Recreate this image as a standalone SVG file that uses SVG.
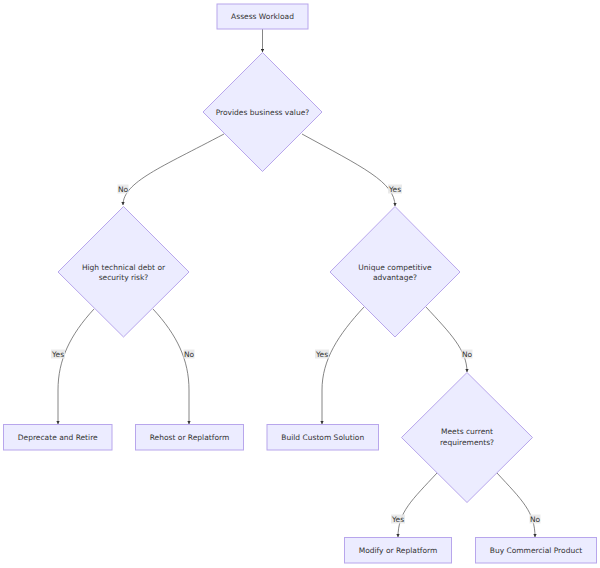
<svg xmlns="http://www.w3.org/2000/svg" width="600" height="568" viewBox="0 0 600 568">
<style>
.node rect,.node polygon{fill:#ECECFF;stroke:#b8a6ec;stroke-width:1}
text{font-family:"DejaVu Sans",sans-serif;font-size:7.5px;fill:#333;text-anchor:middle;dominant-baseline:central}
.edge{fill:none;stroke:#666;stroke-width:0.8}
.lbl rect{fill:#e8e8e8;opacity:0.9}
</style>
<defs>
<marker id="arr" viewBox="0 0 10 10" refX="9" refY="5" markerWidth="4" markerHeight="4" orient="auto">
<path d="M0,0 L10,5 L0,10 z" fill="#333"/>
</marker>
</defs>
<rect width="600" height="568" fill="#fff"/>
<g id="edges">
<path class="edge" d="M262.5,29 L262.5,52" marker-end="url(#arr)"/>
<path class="edge" d="M224,134 C162,167 123,182 123,205" marker-end="url(#arr)"/>
<path class="edge" d="M302,134 C362,167 395,182 395,206" marker-end="url(#arr)"/>
<path class="edge" d="M94,309 C70,335 58,360 58,390 L58,424" marker-end="url(#arr)"/>
<path class="edge" d="M153,309 C177,335 189,360 189,390 L189,424" marker-end="url(#arr)"/>
<path class="edge" d="M364,307 C338,335 322,360 322,390 L322,424" marker-end="url(#arr)"/>
<path class="edge" d="M426,307 C450,333 467,350 467,372" marker-end="url(#arr)"/>
<path class="edge" d="M437,473 C412,500 398,512 398,537" marker-end="url(#arr)"/>
<path class="edge" d="M497,473 C522,500 535,512 535,537" marker-end="url(#arr)"/>
<g class="lbl"><rect x="117.5" y="184.5" width="11" height="9"/><text x="123" y="189">No</text></g>
<g class="lbl"><rect x="388" y="184.5" width="14" height="9"/><text x="395" y="189">Yes</text></g>
<g class="lbl"><rect x="51" y="349.5" width="14" height="9"/><text x="58" y="354">Yes</text></g>
<g class="lbl"><rect x="183.5" y="349.5" width="11" height="9"/><text x="189" y="354">No</text></g>
<g class="lbl"><rect x="315" y="349.5" width="14" height="9"/><text x="322" y="354">Yes</text></g>
<g class="lbl"><rect x="461.5" y="349.5" width="11" height="9"/><text x="467" y="354">No</text></g>
<g class="lbl"><rect x="391" y="514.5" width="14" height="9"/><text x="398" y="519">Yes</text></g>
<g class="lbl"><rect x="529.5" y="514.5" width="11" height="9"/><text x="535" y="519">No</text></g>
</g>
<g id="assess" class="node"><rect x="217" y="4" width="91" height="25"/><text x="262.5" y="16.5">Assess Workload</text></g>
<g id="value" class="node"><polygon points="262.5,52.5 322,112 262.5,171.5 203,112"/><text x="262.5" y="112">Provides business value?</text></g>
<g id="debt" class="node"><polygon points="123.5,206.5 189,272 123.5,337 58,272"/><text x="123.5" y="267">High technical debt or</text><text x="123.5" y="277">security risk?</text></g>
<g id="unique" class="node"><polygon points="395,206.5 460,272 395,337 330,272"/><text x="395" y="267">Unique competitive</text><text x="395" y="277.5">advantage?</text></g>
<g id="meets" class="node"><polygon points="467,372.5 532.5,437.5 467,502.5 401.5,437.5"/><text x="467" y="431.5">Meets current</text><text x="467" y="442.5">requirements?</text></g>
<g id="retire" class="node"><rect x="3.5" y="424.5" width="108.5" height="25.5"/><text x="57.75" y="437.2">Deprecate and Retire</text></g>
<g id="rehost" class="node"><rect x="135.5" y="424.5" width="108" height="25.5"/><text x="189.5" y="437.2">Rehost or Replatform</text></g>
<g id="build" class="node"><rect x="267" y="424.5" width="111.5" height="25.5"/><text x="322.75" y="437.2">Build Custom Solution</text></g>
<g id="modify" class="node"><rect x="344.5" y="537.5" width="107" height="25.5"/><text x="398" y="550.2">Modify or Replatform</text></g>
<g id="buy" class="node"><rect x="475.5" y="537.5" width="121" height="25.5"/><text x="536" y="550.2">Buy Commercial Product</text></g>
</svg>
